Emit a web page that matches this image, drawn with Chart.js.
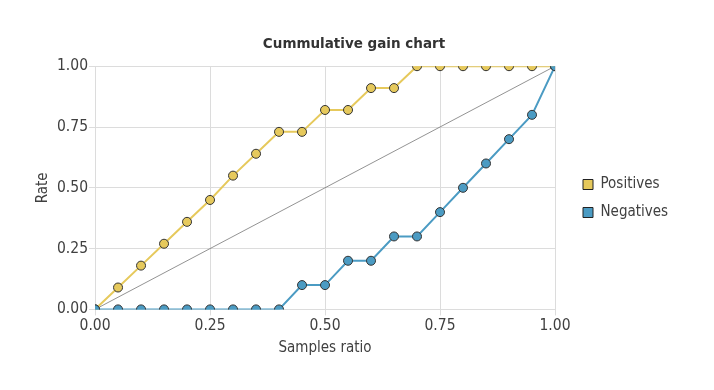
<!DOCTYPE html>
<html>
<head>
<meta charset="utf-8">
<script src="https://cdn.jsdelivr.net/npm/chart.js@4"></script>
<style>
  html, body { margin: 0; padding: 0; background: #fff; }
  #wrap { width: 714px; height: 390px; }
</style>
</head>
<body>
<div id="wrap"><canvas id="gainChart" width="714" height="390"></canvas></div>
<script>
// sample ratio on x, rate on y
const samplesRatio = [0, 0.05, 0.10, 0.15, 0.20, 0.25, 0.30, 0.35, 0.40, 0.45, 0.50,
                      0.55, 0.60, 0.65, 0.70, 0.75, 0.80, 0.85, 0.90, 0.95, 1.00];
const positives = [0, 0.09, 0.18, 0.27, 0.36, 0.45, 0.55, 0.64, 0.73, 0.73, 0.82,
                   0.82, 0.91, 0.91, 1, 1, 1, 1, 1, 1, 1];
const negatives = [0, 0, 0, 0, 0, 0, 0, 0, 0, 0.1, 0.1,
                   0.2, 0.2, 0.3, 0.3, 0.4, 0.5, 0.6, 0.7, 0.8, 1];
const baselineX = [0, 1];
const baselineY = [0, 1];
const axisTicks = [0, 0.25, 0.5, 0.75, 1];

const FONT = '"DejaVu Sans Condensed", "DejaVu Sans", sans-serif';
const TEXT = '#404040';

function toPoints(xs, ys) {
    return xs.map((x, i) => ({ x: x, y: ys[i] }));
}

function series(label, ys, color, order) {
    return {
        label: label,
        data: toPoints(samplesRatio, ys),
        borderColor: color,
        backgroundColor: color,
        pointBackgroundColor: color,
        pointBorderColor: '#333',
        pointBorderWidth: 1,
        pointRadius: 4.5,
        borderWidth: 2,
        tension: 0,
        order: order
    };
}

document.addEventListener('DOMContentLoaded', () => {
    const ctx = document.getElementById('gainChart').getContext('2d');
    new Chart(ctx, {
        type: 'line',
        data: {
            datasets: [
                series('Positives', positives, '#e6c95c', 2),
                series('Negatives', negatives, '#4b9bc3', 1),
                {
                    label: 'Baseline',
                    data: toPoints(baselineX, baselineY),
                    borderColor: '#777',
                    borderWidth: 0.8,
                    pointRadius: 0,
                    tension: 0,
                    order: 3
                }
            ]
        },
        options: {
            responsive: false,
            animation: false,
            layout: { padding: { left: 30, right: 36, top: 36, bottom: 29 } },
            plugins: {
                title: {
                    display: true,
                    text: 'Cummulative gain chart',
                    color: '#333',
                    font: { family: '"DejaVu Sans", sans-serif', size: 13.5, weight: 'bold' },
                    padding: { top: 0, bottom: 14 }
                },
                legend: {
                    position: 'right',
                    labels: {
                        boxWidth: 10,
                        boxHeight: 10,
                        padding: 13,
                        color: TEXT,
                        font: { family: FONT, size: 15 },
                        generateLabels: chart => chart.data.datasets
                            .filter(ds => ds.label !== 'Baseline')
                            .map((ds, i) => ({
                                text: ds.label,
                                fillStyle: ds.backgroundColor,
                                strokeStyle: '#222',
                                lineWidth: 1,
                                fontColor: TEXT,
                                datasetIndex: i,
                                hidden: false
                            }))
                    }
                },
                tooltip: { enabled: false }
            },
            scales: {
                x: {
                    type: 'linear',
                    min: 0,
                    max: 1,
                    afterBuildTicks: axis => { axis.ticks = axisTicks.map(v => ({ value: v })); },
                    ticks: {
                        color: TEXT,
                        font: { family: FONT, size: 15.5 },
                        callback: v => v.toFixed(2),
                        padding: 1
                    },
                    grid: { color: '#dcdcdc', tickLength: 6 },
                    border: { color: '#dcdcdc' },
                    title: {
                        display: true,
                        text: 'Samples ratio',
                        color: TEXT,
                        font: { family: FONT, size: 15 },
                        padding: { top: 3 }
                    }
                },
                y: {
                    min: 0,
                    max: 1,
                    afterBuildTicks: axis => { axis.ticks = axisTicks.map(v => ({ value: v })); },
                    ticks: {
                        color: TEXT,
                        font: { family: FONT, size: 15.5 },
                        callback: v => v.toFixed(2),
                        padding: 1
                    },
                    grid: { color: '#dcdcdc', tickLength: 6 },
                    border: { color: '#dcdcdc' },
                    title: {
                        display: true,
                        text: 'Rate',
                        color: TEXT,
                        font: { family: FONT, size: 15 },
                        padding: { top: 4, bottom: 4 }
                    }
                },
                // empty right axis, only to keep a gap before the legend
                gap: {
                    type: 'linear',
                    position: 'right',
                    display: true,
                    grid: { display: false },
                    border: { display: false },
                    ticks: { display: false },
                    afterFit: axis => { axis.width = 15; }
                }
            }
        }
    });
});
</script>
</body>
</html>
